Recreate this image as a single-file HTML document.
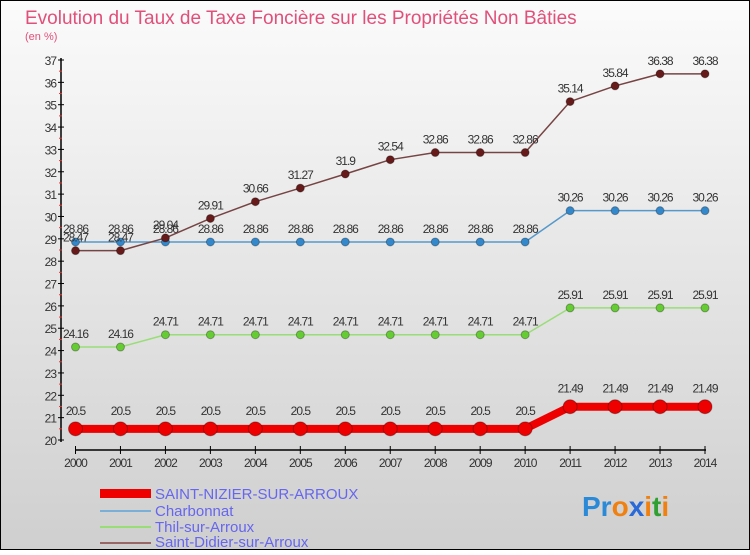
<!DOCTYPE html>
<html><head><meta charset="utf-8"><style>
body{margin:0}
svg text{font-family:"Liberation Sans",sans-serif}
</style></head><body>
<svg width="750" height="550" xmlns="http://www.w3.org/2000/svg">
<defs><linearGradient id="bg" x1="0" y1="0" x2="0" y2="1"><stop offset="0" stop-color="#fbfbfb"/><stop offset="1" stop-color="#cfcfcf"/></linearGradient></defs>
<rect x="0.5" y="0.5" width="749" height="549" fill="url(#bg)" stroke="#000"/>
<text x="25" y="24" font-size="19" fill="#e0507a">Evolution du Taux de Taxe Foncière sur les Propriétés Non Bâties</text>
<text x="25" y="40" font-size="11" fill="#e0507a">(en %)</text>
<g id="axes"></g>
<g id="series"></g>
<g>
<rect x="100" y="489" width="51" height="9" fill="#e00"/>
<text x="155" y="499" font-size="15" fill="#6666ee">SAINT-NIZIER-SUR-ARROUX</text>
<line x1="100" y1="511" x2="151" y2="511" stroke="#7ab0d8" stroke-width="2"/>
<text x="155" y="516" font-size="15" fill="#6666ee">Charbonnat</text>
<line x1="100" y1="527" x2="151" y2="527" stroke="#99dd77" stroke-width="2"/>
<text x="155" y="532" font-size="15" fill="#6666ee">Thil-sur-Arroux</text>
<line x1="100" y1="543" x2="151" y2="543" stroke="#996666" stroke-width="2"/>
<text x="155" y="547" font-size="15" fill="#6666ee">Saint-Didier-sur-Arroux</text>
</g>
<text x="582" y="516" font-size="28" font-weight="bold"><tspan fill="#2a8ad8">Pr</tspan><tspan fill="#f08010">o</tspan><tspan fill="#2a6ad8">x</tspan><tspan fill="#f08010">i</tspan><tspan fill="#30a030">t</tspan><tspan fill="#f08010">i</tspan></text>
</svg>
<script>
const years=[2000,2001,2002,2003,2004,2005,2006,2007,2008,2009,2010,2011,2012,2013,2014];
const yTicks=[20,21,22,23,24,25,26,27,28,29,30,31,32,33,34,35,36,37];
const saintNizier=[20.5,20.5,20.5,20.5,20.5,20.5,20.5,20.5,20.5,20.5,20.5,21.49,21.49,21.49,21.49];
const charbonnat=[28.86,28.86,28.86,28.86,28.86,28.86,28.86,28.86,28.86,28.86,28.86,30.26,30.26,30.26,30.26];
const thil=[24.16,24.16,24.71,24.71,24.71,24.71,24.71,24.71,24.71,24.71,24.71,25.91,25.91,25.91,25.91];
const saintDidier=[28.47,28.47,29.04,29.91,30.66,31.27,31.9,32.54,32.86,32.86,32.86,35.14,35.84,36.38,36.38];
const NS="http://www.w3.org/2000/svg";
const X=i=>75.5+i*(705-75.5)/(years.length-1);
const Y=v=>440-(v-20)*(380/17);
function mk(tag,attrs,parent){const e=document.createElementNS(NS,tag);for(const k in attrs)e.setAttribute(k,attrs[k]);parent.appendChild(e);return e;}
const ax=document.getElementById('axes');
let l=mk('line',{x1:61,y1:58,x2:61,y2:442,stroke:'#000','stroke-width':1.5},ax);


yTicks.forEach(v=>{
 mk('line',{x1:58,y1:Y(v),x2:64,y2:Y(v),stroke:'#000'},ax);
 if(v<37)mk('line',{x1:59,y1:Y(v+0.5),x2:62,y2:Y(v+0.5),stroke:'#e33'},ax);
 const t=mk('text',{x:56,y:Y(v)+5,'font-size':12,'text-anchor':'end',fill:'#333','letter-spacing':'-1'},ax);
 t.textContent=v;
 
 
});
l=mk('line',{x1:75,y1:450,x2:706,y2:450,stroke:'#000','stroke-width':1.5},ax);


years.forEach((y,i)=>{
 mk('line',{x1:X(i),y1:446,x2:X(i),y2:454,stroke:'#000'},ax);
 const t=mk('text',{x:X(i),y:467,'font-size':12,'text-anchor':'middle',fill:'#333','letter-spacing':'-1'},ax);
 t.textContent=y;
 
 
});
const sg=document.getElementById('series');
function series(vals,name,color,dot,lw,r,lblOff){
 const g=mk('g',{},sg);
 
 
 const p=mk('polyline',{points:vals.map((v,i)=>X(i)+','+Y(v)).join(' '),fill:'none',stroke:color,'stroke-width':lw,'stroke-linejoin':'round'},g);
 
 
 vals.forEach((v,i)=>{
  const c=mk('circle',{cx:X(i),cy:Y(v),r:r,fill:dot,stroke:'rgba(0,0,0,0.3)'},g);
  
  
  const t=mk('text',{x:X(i),y:Y(v)-lblOff,'font-size':12,'text-anchor':'middle',fill:'#333','letter-spacing':'-1'},g);
  t.textContent=String(v);
  
  
 });
}
series(thil,'thil-sur-arroux','#99dd77','#66cc33',1.5,4,9);
series(charbonnat,'charbonnat','#5599cc','#3388cc',1.5,4,9);
series(saintDidier,'saint-didier-sur-arroux','#774444','#661a1a',1.5,4,9);
series(saintNizier,'saint-nizier-sur-arroux','#ee0000','#ee0000',8,7,14);
</script>
</body></html>
